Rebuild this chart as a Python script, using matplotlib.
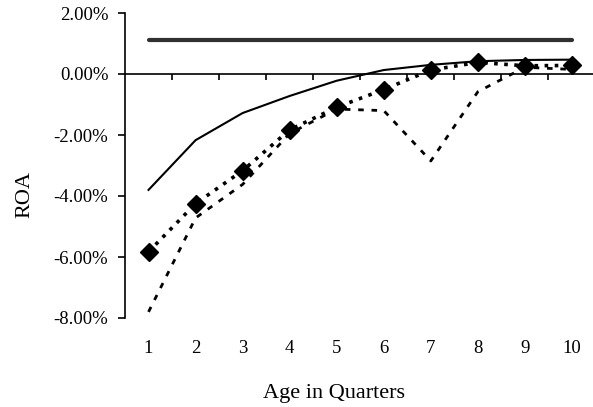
import matplotlib
matplotlib.use("Agg")
from matplotlib import pyplot as plt
from matplotlib.ticker import PercentFormatter, FixedLocator

plt.rcParams['font.family'] = ['Liberation Serif', 'DejaVu Serif']
plt.rcParams['axes.unicode_minus'] = False

# values in percent
quarters = [1, 2, 3, 4, 5, 6, 7, 8, 9, 10]
benchmark = [1.12, 1.12, 1.12, 1.12, 1.12, 1.12, 1.12, 1.12, 1.12, 1.12]
solid_roa = [-3.80, -2.17, -1.28, -0.72, -0.22, 0.13, 0.30, 0.42, 0.46, 0.47]
diamond_roa = [-5.83, -4.25, -3.17, -1.83, -1.09, -0.51, 0.13, 0.38, 0.27, 0.28]
dashed_roa = [-7.80, -4.72, -3.62, -1.95, -1.15, -1.20, -2.85, -0.58, 0.22, 0.15]
yticks = [2, 0, -2, -4, -6, -8]
boundaries = [1.5, 2.5, 3.5, 4.5, 5.5, 6.5, 7.5, 8.5, 9.5]

fig = plt.figure(figsize=(5.93, 4.07), dpi=100)
ax = fig.add_axes([125/593, 89/407, 470.5/593, 305/407])

ax.plot(quarters, benchmark, color='#303030', lw=3.0, solid_capstyle='round', zorder=3)
ax.plot(quarters, solid_roa, color='black', lw=1.5, zorder=3)
ax.plot(quarters, dashed_roa, color='black', lw=2.0, dashes=(2.0, 2.8), zorder=3)
ax.plot(quarters, diamond_roa, color='black', lw=2.6, dashes=(1.0, 1.8),
        marker='D', markersize=9, zorder=4)

ax.set_xlim(0.5, 10.5)
ax.set_ylim(-8, 2)

ax.spines['top'].set_visible(False)
ax.spines['right'].set_visible(False)
ax.spines['left'].set_linewidth(1.2)
ax.spines['bottom'].set_position(('data', 0))
ax.spines['bottom'].set_linewidth(1.2)

ax.yaxis.set_major_locator(FixedLocator(yticks))
ax.yaxis.set_major_formatter(PercentFormatter(decimals=2))
ax.tick_params(axis='y', direction='out', length=5, width=1.2, pad=7, labelsize=13.5)

ax.xaxis.set_major_locator(FixedLocator(boundaries))
ax.tick_params(axis='x', direction='out', length=4.5, width=1.2, labelbottom=False)

sec = ax.secondary_xaxis(0)
sec.set_xticks(quarters)
sec.spines['bottom'].set_visible(False)
sec.tick_params(axis='x', length=0, pad=16, labelsize=13.5)

fig.text(25/593, 1 - 195/407, 'ROA', rotation=90, ha='center', va='center', fontsize=16)
fig.text(334/593, 1 - 398/407, 'Age in Quarters', ha='center', va='baseline', fontsize=16)

fig.savefig('out.png', dpi=100)
